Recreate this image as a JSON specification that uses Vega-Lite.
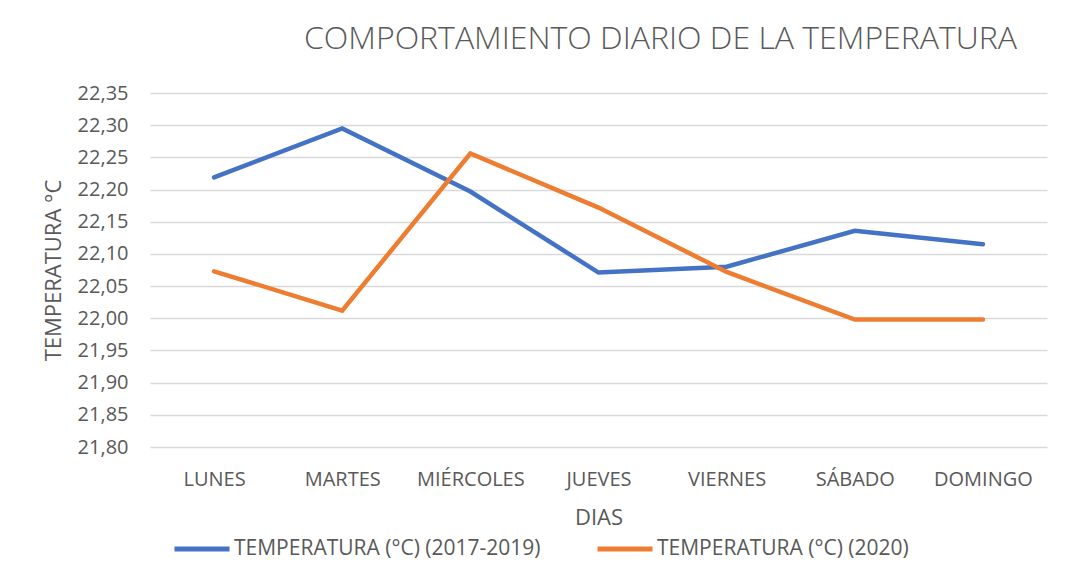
{
  "$schema": "https://vega.github.io/schema/vega-lite/v6.json",
  "width": 897,
  "height": 354,
  "autosize": "none",
  "padding": {"left": 150, "top": 93, "right": 21, "bottom": 134},
  "background": "white",
  "config": {
    "view": {"stroke": null},
    "font": "Open Sans"
  },
  "title": {
    "text": "COMPORTAMIENTO DIARIO DE LA TEMPERATURA",
    "fontSize": 32,
    "fontWeight": 300,
    "color": "#595959",
    "anchor": "middle",
    "dx": 62,
    "offset": 27
  },
  "data": {
    "values": [
      {"dia": "LUNES", "serie": "TEMPERATURA (°C) (2017-2019)", "temp": 22.219},
      {"dia": "MARTES", "serie": "TEMPERATURA (°C) (2017-2019)", "temp": 22.295},
      {"dia": "MIÉRCOLES", "serie": "TEMPERATURA (°C) (2017-2019)", "temp": 22.197},
      {"dia": "JUEVES", "serie": "TEMPERATURA (°C) (2017-2019)", "temp": 22.071},
      {"dia": "VIERNES", "serie": "TEMPERATURA (°C) (2017-2019)", "temp": 22.080},
      {"dia": "SÁBADO", "serie": "TEMPERATURA (°C) (2017-2019)", "temp": 22.136},
      {"dia": "DOMINGO", "serie": "TEMPERATURA (°C) (2017-2019)", "temp": 22.115},
      {"dia": "LUNES", "serie": "TEMPERATURA (°C) (2020)", "temp": 22.073},
      {"dia": "MARTES", "serie": "TEMPERATURA (°C) (2020)", "temp": 22.012},
      {"dia": "MIÉRCOLES", "serie": "TEMPERATURA (°C) (2020)", "temp": 22.256},
      {"dia": "JUEVES", "serie": "TEMPERATURA (°C) (2020)", "temp": 22.172},
      {"dia": "VIERNES", "serie": "TEMPERATURA (°C) (2020)", "temp": 22.072},
      {"dia": "SÁBADO", "serie": "TEMPERATURA (°C) (2020)", "temp": 21.998},
      {"dia": "DOMINGO", "serie": "TEMPERATURA (°C) (2020)", "temp": 21.998}
    ]
  },
  "mark": {"type": "line", "strokeWidth": 4.5, "strokeCap": "round", "strokeJoin": "miter"},
  "encoding": {
    "x": {
      "field": "dia",
      "type": "ordinal",
      "sort": ["LUNES", "MARTES", "MIÉRCOLES", "JUEVES", "VIERNES", "SÁBADO", "DOMINGO"],
      "scale": {"type": "point", "padding": 0.5},
      "axis": {
        "title": "DIAS",
        "labelAngle": 0,
        "labelFontSize": 20,
        "labelColor": "#595959",
        "labelPadding": 32,
        "labelBaseline": "middle",
        "ticks": false,
        "tickSize": 0,
        "domain": false,
        "grid": false,
        "titleFontSize": 22,
        "titleFontWeight": "normal",
        "titleColor": "#595959",
        "titleY": 70,
        "titleBaseline": "middle"
      }
    },
    "y": {
      "field": "temp",
      "type": "quantitative",
      "scale": {"domain": [21.8, 22.35], "nice": false, "zero": false},
      "axis": {
        "title": "TEMPERATURA °C",
        "values": [21.8, 21.85, 21.9, 21.95, 22.0, 22.05, 22.1, 22.15, 22.2, 22.25, 22.3, 22.35],
        "labelExpr": "replace(format(datum.value, '.2f'), '.', ',')",
        "labelFontSize": 20,
        "labelColor": "#595959",
        "labelPadding": 22,
        "ticks": false,
        "tickSize": 0,
        "domain": false,
        "grid": true,
        "gridColor": "#d9d9d9",
        "gridWidth": 1.5,
        "titleFontSize": 22,
        "titleFontWeight": "normal",
        "titleColor": "#595959",
        "titleX": -97,
        "titleY": 177,
        "titleAngle": -90,
        "titleAlign": "center",
        "titleBaseline": "middle"
      }
    },
    "color": {
      "field": "serie",
      "type": "nominal",
      "scale": {"range": ["#4472C4", "#ED7D31"]},
      "legend": {
        "title": null,
        "orient": "none",
        "direction": "horizontal",
        "legendX": 22,
        "legendY": 426,
        "symbolType": "stroke",
        "symbolSize": 3025,
        "symbolStrokeWidth": 5,
        "labelFontSize": 21,
        "labelColor": "#595959",
        "labelOffset": 2,
        "columnPadding": 46,
        "labelLimit": 500
      }
    }
  }
}
